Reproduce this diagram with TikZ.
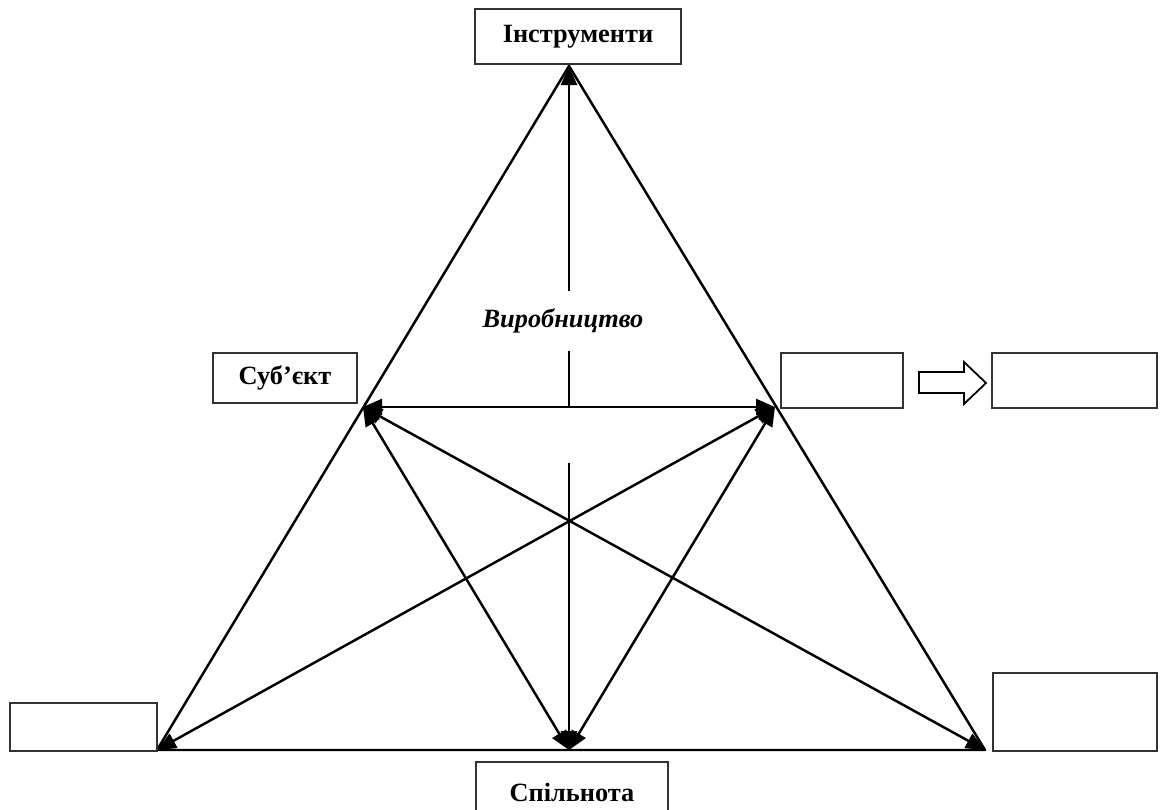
\documentclass[tikz,border=0pt]{standalone}
\usepackage{fontspec}
\setmainfont{Liberation Serif}
\usetikzlibrary{arrows.meta, positioning}

\begin{document}
\begin{tikzpicture}[
  x=0.02cm, y=-0.02cm,
  every node/.style={font=\fontsize{15}{18}\selectfont\bfseries},
  box/.style={draw=black!80, line width=0.7pt, inner sep=0pt, outer sep=0pt},
  link/.style={line width=1.4pt},
  dbl/.style={link, {Triangle[length=0.38cm,width=0.32cm]}-{Triangle[length=0.38cm,width=0.32cm]}},
  one/.style={link, -{Triangle[length=0.38cm,width=0.32cm]}}
]
  \useasboundingbox (0,0) rectangle (1163,809);
  \clip (0,0) rectangle (1163,809);

  % corners and side midpoints
  \coordinate (T) at (569,66);
  \coordinate (L) at (157,750);
  \coordinate (R) at (985,750);
  \coordinate (ML) at (363,407);
  \coordinate (MR) at (775,407);
  \coordinate (MB) at (569,750);
  \coordinate (gap) at (569,463);

  \draw[link, line join=round] (L) -- (T) -- (R) -- cycle;

  \node[font=\fontsize{15}{18}\selectfont\bfseries\itshape, minimum height=1.2cm, inner sep=0pt] (prod) at (563,321) {Виробництво};

  \draw[one] (T |- prod.north) -- (T);
  \draw[link] (T |- prod.south) -- (T |- ML);
  \draw[one] (gap) -- (MB);

  \draw[dbl] (ML) -- (MR);
  \draw[dbl] (ML) -- (MB);
  \draw[dbl] (MR) -- (MB);
  \draw[dbl] (ML) -- (R);
  \draw[dbl] (MR) -- (L);

  % boxes
  \node[box, minimum width=4.12cm, minimum height=1.1cm] (instr) at (578,36.5) {Інструменти};
  \node[box, minimum width=2.88cm, minimum height=1.0cm] (subj) at (285,378) {Суб’єкт};
  \node[box, minimum width=2.44cm, minimum height=1.1cm] (obj) at (842,380.5) {};
  \node[box, minimum width=3.3cm, minimum height=1.1cm] (res) at (1074.5,380.5) {};
  \node[box, minimum width=2.94cm, minimum height=0.96cm] (rules) at (83.5,727) {};
  \node[box, minimum width=3.28cm, minimum height=1.56cm] (labour) at (1075,712) {};
  \node[box, minimum width=3.84cm, minimum height=1.2cm] (comm) at (572,792) {Спільнота};

  \draw[line width=1pt, line join=miter] (919,372) -- (964,372) -- (964,362) -- (986,383)
    -- (964,404) -- (964,393) -- (919,393) -- cycle;
\end{tikzpicture}
\end{document}
